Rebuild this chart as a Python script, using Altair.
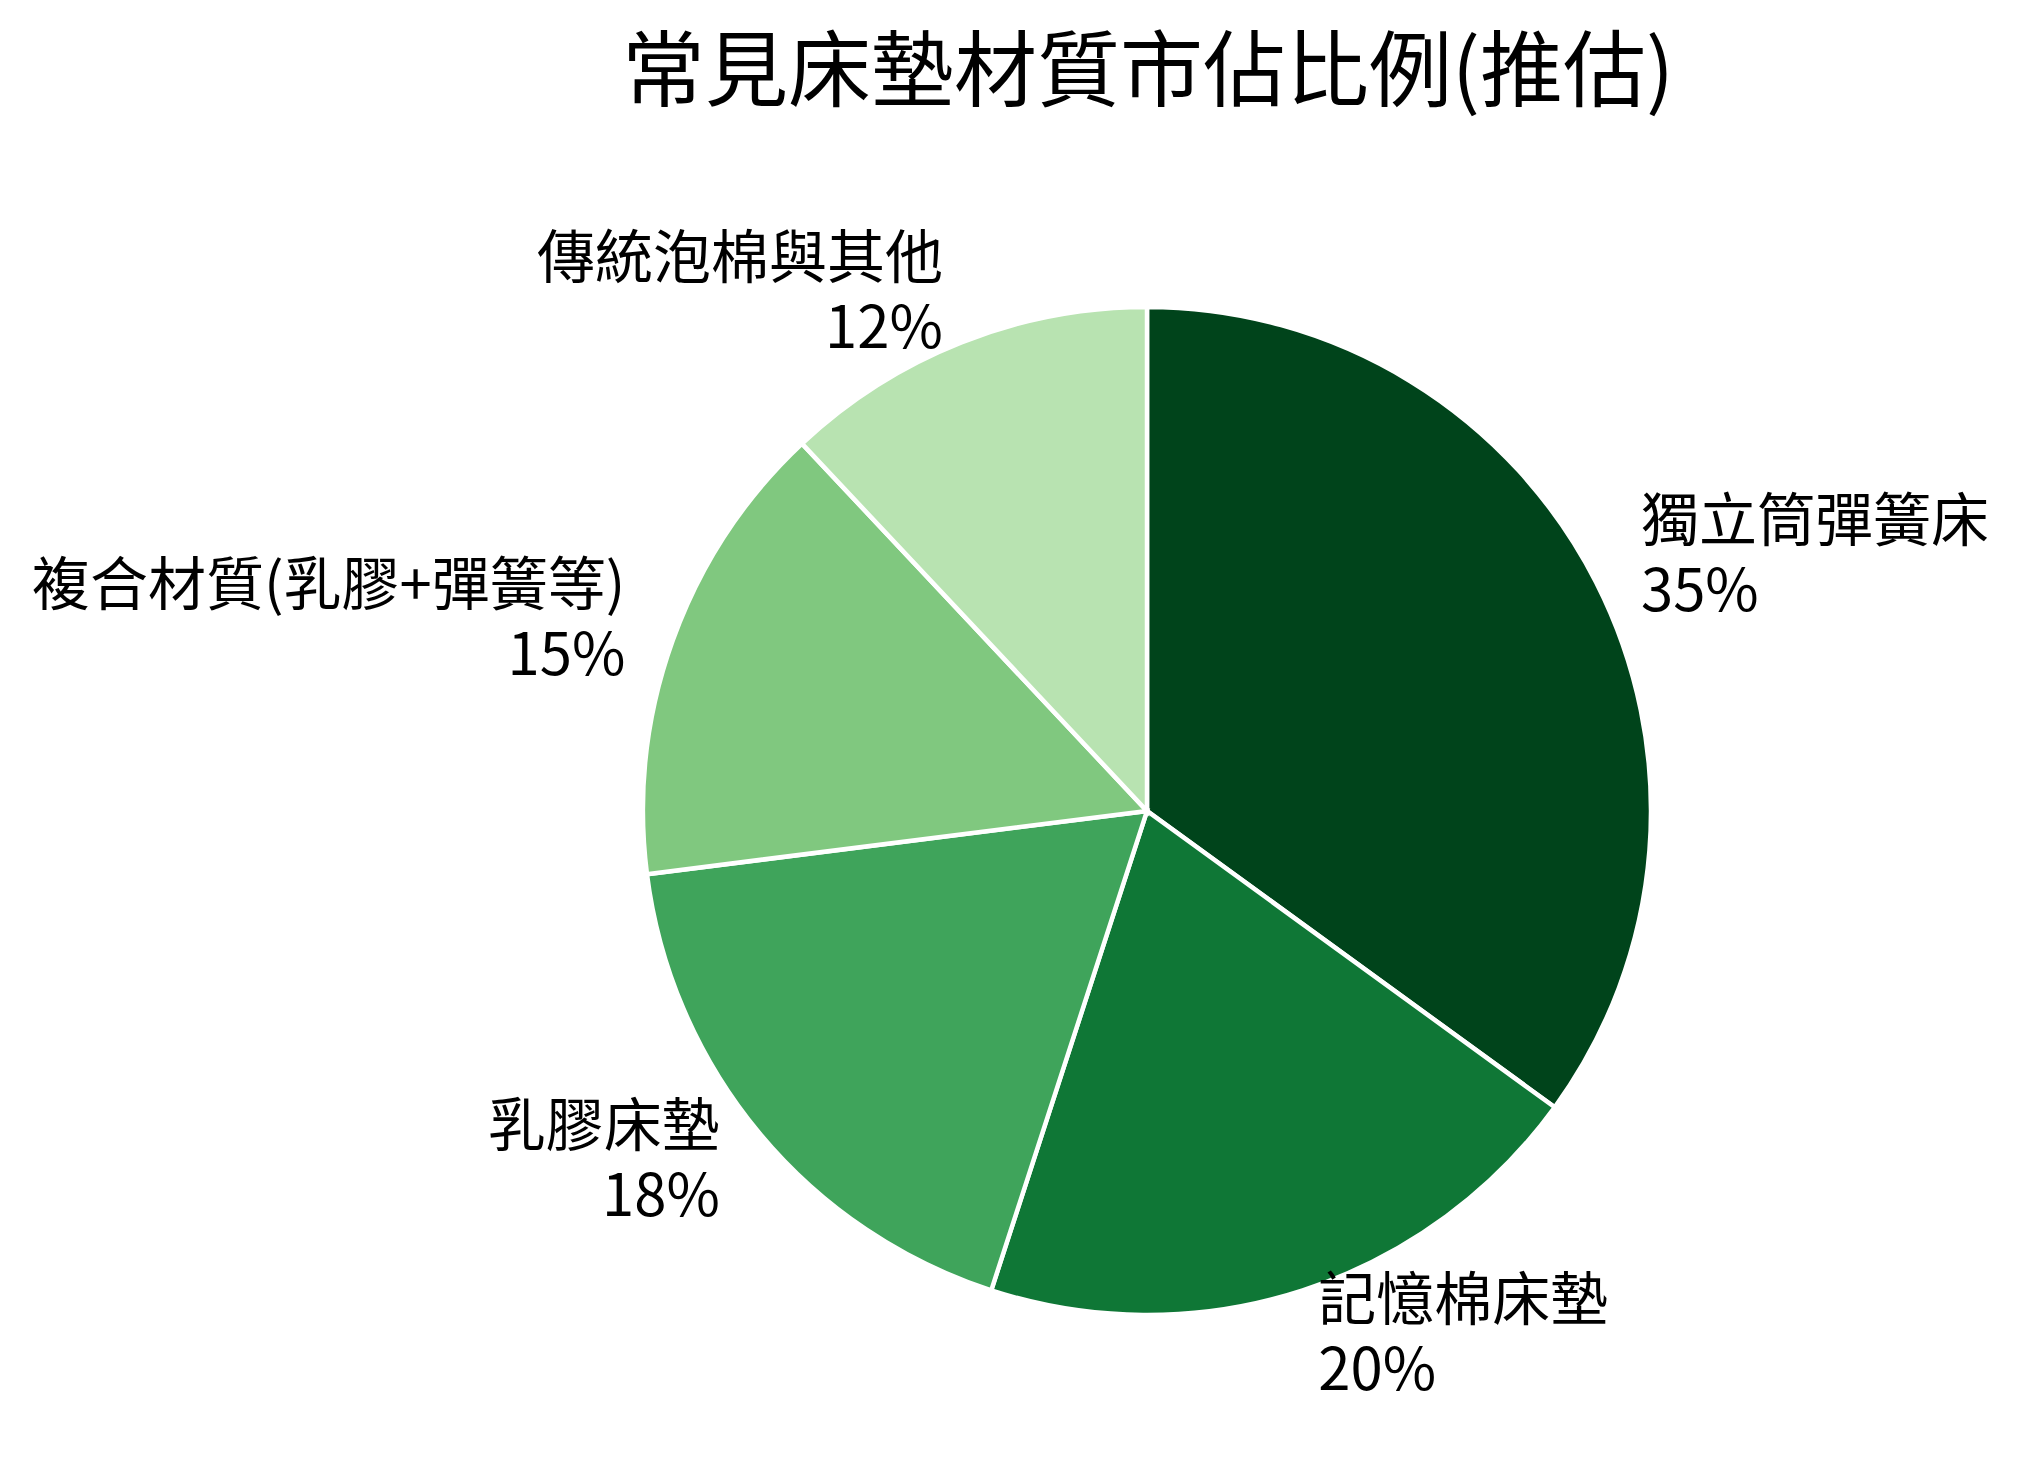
import altair as alt
import pandas as pd

categories = ["獨立筒彈簧床", "記憶棉床墊", "乳膠床墊", "複合材質(乳膠+彈簧等)", "傳統泡棉與其他"]
values = [35, 20, 18, 15, 12]
colors = ["#00441b", "#0f7736", "#3fa45b", "#80c87f", "#b8e3b1"]
label_side = ["right", "right", "left", "left", "left"]

df = pd.DataFrame({
    "category": categories,
    "value": values,
    "idx": list(range(len(categories))),
    "side": label_side,
    "text": [f"{c}\n{v}%" for c, v in zip(categories, values)],
})

FONT = "Noto Sans CJK TC"
R = 504
CX = 1139
CY = 684
LH = 70

base = alt.Chart(df).encode(
    theta=alt.Theta("value:Q", stack=True),
    order=alt.Order("idx:Q", sort="ascending"),
)

pie = base.mark_arc(outerRadius=R, stroke="white", strokeWidth=4.5).encode(
    color=alt.Color("category:N", scale=alt.Scale(domain=categories, range=colors), legend=None),
    x=alt.value(CX),
    y=alt.value(CY),
)

labels_right = base.mark_text(
    radius=R * 1.1, align="left", baseline="middle", fontSize=58, font=FONT,
    lineBreak="\n", lineHeight=LH, dy=-LH / 2, color="black",
).encode(
    text=alt.condition("datum.side == 'right'", "text:N", alt.value("")),
    x=alt.value(CX),
    y=alt.value(CY),
)

labels_left = base.mark_text(
    radius=R * 1.1, align="right", baseline="middle", fontSize=58, font=FONT,
    lineBreak="\n", lineHeight=LH, dy=-LH / 2, color="black",
).encode(
    text=alt.condition("datum.side == 'left'", "text:N", alt.value("")),
    x=alt.value(CX),
    y=alt.value(CY),
)

chart = alt.layer(pie, labels_right, labels_left).properties(
    width=2000,
    height=1300,
    padding={"top": 26, "left": 0, "right": 0, "bottom": 0},
    title=alt.TitleParams(
        "常見床墊材質市佔比例(推估)",
        font=FONT, fontSize=83, fontWeight="normal", color="black",
        anchor="middle", frame="group", dx=140, offset=10,
    ),
).configure_view(stroke=None)

chart.save("out.html", embed_options={"renderer": "svg", "actions": False})
